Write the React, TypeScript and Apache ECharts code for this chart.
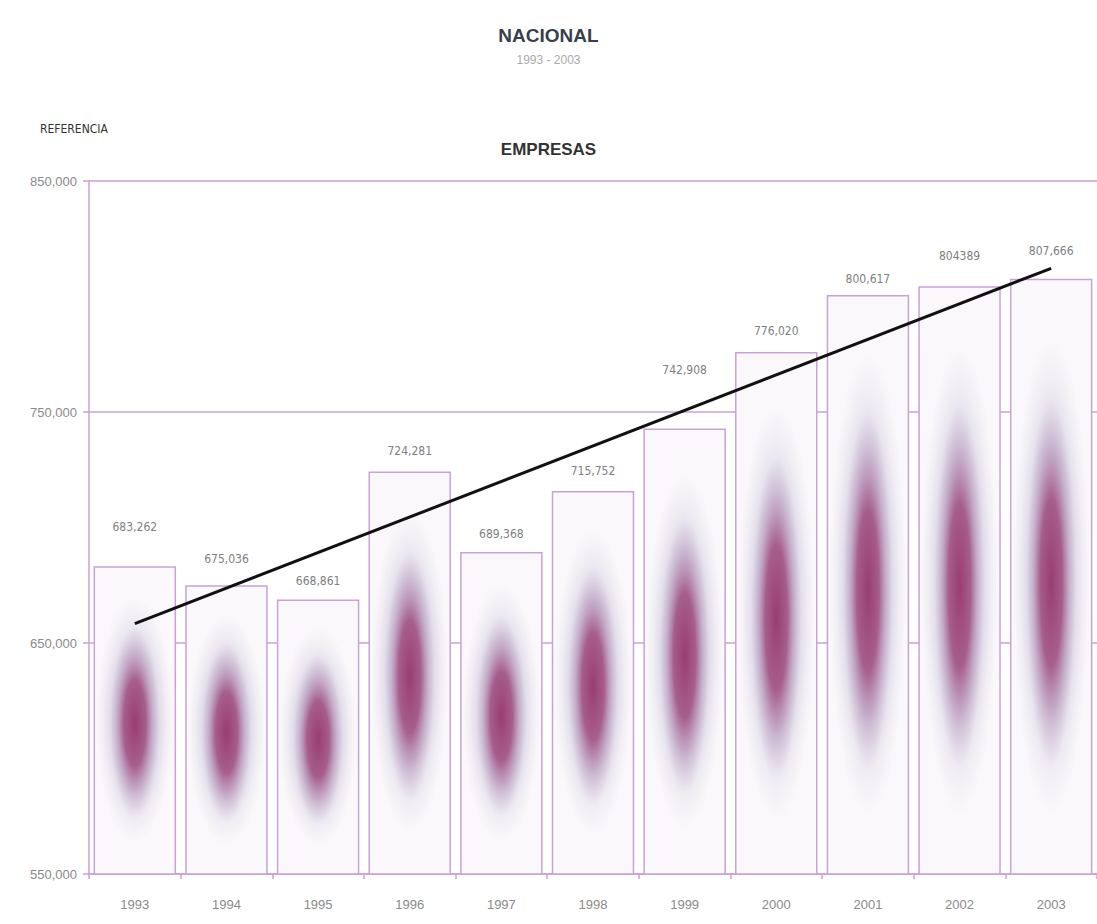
import React, { useEffect, useRef } from "react";
import * as echarts from "echarts";

const years = ["1993", "1994", "1995", "1996", "1997", "1998", "1999", "2000", "2001", "2002", "2003"];
const empresas = [683262, 675036, 668861, 724281, 689368, 715752, 742908, 776020, 800617, 804389, 807666];
const valueLabels = ["683,262", "675,036", "668,861", "724,281", "689,368", "715,752", "742,908", "776,020", "800,617", "804389", "807,666"];
const trendStart = 658400;
const trendEnd = 812200;
const yTicks = { min: 550000, max: 850000, interval: 100000 };
// label gap above each bar (style only)
const labelDistance = [33, 20, 12, 14, 12, 14, 52, 15, 10, 24, 22];

const PURPLE = "#c9a2d6";

export default function App() {
  const ref = useRef<HTMLDivElement>(null);
  useEffect(() => {
    document.body.style.margin = "0";
    const chart = echarts.init(ref.current!, undefined, { renderer: "svg" });
    const font = "'Liberation Sans', Arial, sans-serif";
    chart.setOption({
      animation: false,
      backgroundColor: "#ffffff",
      title: [
        { text: "NACIONAL", left: "center", top: 21, textStyle: { fontSize: 19, fontWeight: "bold", color: "#3a3f4d", fontFamily: font } },
        { text: "1993 - 2003", left: "center", top: 49, textStyle: { fontSize: 12, fontWeight: "normal", color: "#aaaaaa", fontFamily: font } },
        { text: "REFERENCIA", left: 35, top: 118, textStyle: { fontSize: 12, fontWeight: "normal", color: "#333333", fontFamily: "'DejaVu Sans Condensed', 'Liberation Sans Narrow', sans-serif" } },
        { text: "EMPRESAS", left: "center", top: 136, textStyle: { fontSize: 17, fontWeight: "bold", color: "#333333", fontFamily: font } },
      ],
      grid: { left: 89, right: 0, top: 181, bottom: 50, containLabel: false },
      xAxis: {
        type: "category",
        data: years,
        boundaryGap: true,
        axisLine: { lineStyle: { color: PURPLE, width: 1.5 } },
        axisTick: { show: true, alignWithLabel: false, length: 5, lineStyle: { color: PURPLE, width: 1.5 } },
        axisLabel: { color: "#8a8a8a", fontSize: 13, margin: 24, fontFamily: font },
        splitLine: { show: false },
      },
      yAxis: {
        type: "value",
        min: yTicks.min,
        max: yTicks.max,
        interval: yTicks.interval,
        axisLine: { show: true, lineStyle: { color: PURPLE, width: 1.5 } },
        axisTick: { show: true, length: 6, lineStyle: { color: PURPLE, width: 1.5 } },
        axisLabel: {
          color: "#8a8a8a",
          fontSize: 13,
          margin: 12,
          fontFamily: font,
          formatter: (v: number) => v.toLocaleString("en-US"),
        },
        splitLine: { show: true, lineStyle: { color: PURPLE, width: 1.5 } },
      },
      series: [
        {
          type: "bar",
          barWidth: "90%",
          z: 2,
          data: empresas.map((v, i) => ({
            value: v,
            label: { distance: labelDistance[i] },
          })),
          itemStyle: { color: "#faf8fa", borderColor: PURPLE, borderWidth: 1.5 },
          label: {
            show: true,
            position: "top",
            color: "#808080",
            fontSize: 12,
            fontFamily: "'Liberation Sans Narrow', 'DejaVu Sans Condensed', sans-serif",
            formatter: (p: any) => valueLabels[p.dataIndex],
          },
        },
        {
          type: "custom",
          z: 3,
          silent: true,
          data: empresas.map((v, i) => [i, v]),
          renderItem: (params: any, api: any) => {
            const idx = api.value(0);
            const top = api.coord([idx, api.value(1)]);
            const bottom = api.coord([idx, yTicks.min]);
            const band = api.size([1, 0])[0];
            const w = band * 0.9;
            const h = bottom[1] - top[1];
            const x0 = top[0] - w / 2;
            const haze = new echarts.graphic.RadialGradient(0.5, 0.5, 0.5, [
              { offset: 0, color: "rgba(175,155,195,0.75)" },
              { offset: 0.55, color: "rgba(188,178,208,0.55)" },
              { offset: 0.8, color: "rgba(205,198,220,0.25)" },
              { offset: 1, color: "rgba(222,216,232,0)" },
            ]);
            const core = new echarts.graphic.RadialGradient(0.5, 0.5, 0.5, [
              { offset: 0, color: "rgba(148,48,104,0.9)" },
              { offset: 0.45, color: "rgba(155,65,118,0.78)" },
              { offset: 0.75, color: "rgba(168,115,162,0.3)" },
              { offset: 1, color: "rgba(180,150,190,0)" },
            ]);
            return {
              type: "group",
              children: [
                { type: "rect", shape: { x: x0 + w * 0.03, y: top[1] + h * 0.1, width: w * 0.94, height: h * 0.8 }, style: { fill: haze } },
                { type: "rect", shape: { x: x0 + w * 0.2, y: top[1] + h * 0.2, width: w * 0.6, height: h * 0.62 }, style: { fill: core } },
              ],
            };
          },
        },
        {
          type: "line",
          z: 5,
          symbol: "none",
          data: [
            [years[0], trendStart],
            [years[years.length - 1], trendEnd],
          ],
          lineStyle: { color: "#111111", width: 3 },
        },
      ],
    });
    return () => chart.dispose();
  }, []);
  return <div ref={ref} style={{ width: 1097, height: 924 }} />;
}
